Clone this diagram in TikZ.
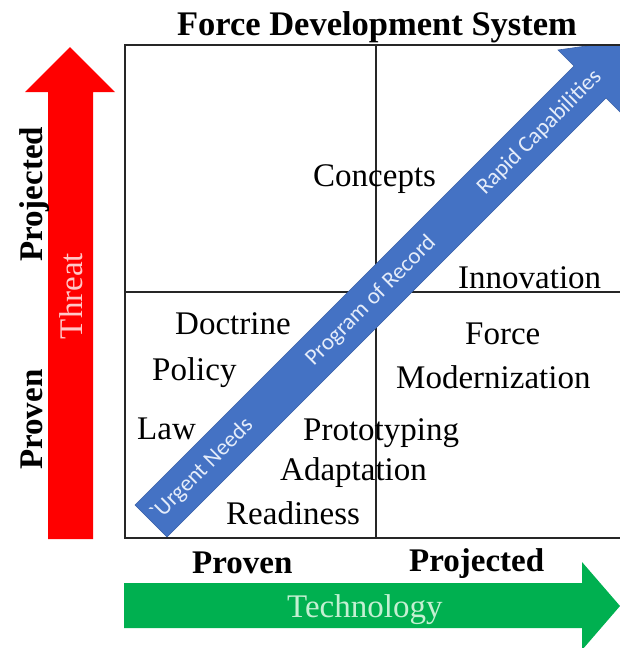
\documentclass[tikz,border=0pt]{standalone}
\usepackage{fontspec}
\setmainfont{Liberation Serif}
\newfontfamily\bandfont{Carlito}
\usepackage{tikz}
\definecolor{threatred}{RGB}{255,0,0}
\definecolor{threatpink}{RGB}{255,200,200}
\definecolor{techgreen}{RGB}{0,176,80}
\definecolor{techpale}{RGB}{196,240,210}
\definecolor{bandblue}{RGB}{68,114,196}
\definecolor{bandtext}{RGB}{228,236,250}

\begin{document}
\begin{tikzpicture}[x=1pt,y=-1pt,
  lbl/.style={font=\fontsize{33}{38}\selectfont,anchor=base west,inner sep=0pt},
  axis/.style={font=\fontsize{33}{38}\selectfont\bfseries,inner sep=0pt},
  band/.style={font=\bandfont\fontsize{23}{26}\selectfont,text=bandtext,rotate=45,inner sep=0pt}]
 \useasboundingbox (0,0) rectangle (620,648);
 \draw[line width=1.6pt,black!85] (376,46) -- (376,538) (126,292) -- (640,292);
 \begin{scope}
  \clip (126,46.5) rectangle (620,537);
  \fill[bandblue,draw=bandblue!85!black,line width=.6pt]
   (135,505) -- (574,66) -- (558,50) -- (632.5,39.5) -- (622,114) -- (606,98) -- (167,537) -- cycle;
 \end{scope}
 \draw[line width=2pt,black!85] (125,45) rectangle (640,538);
 \fill[threatred] (48,539) -- (48,92) -- (25,92) -- (70,47) -- (115,92) -- (93,92) -- (93,539) -- cycle;
 \fill[techgreen] (124,583) -- (582,583) -- (582,562) -- (620,606) -- (582,650) -- (582,628) -- (124,628) -- cycle;
 \node[axis,anchor=base,font=\fontsize{34.5}{40}\selectfont\bfseries] (title) at (377,35) {Force Development System};
 \foreach \x/\y/\txt/\nm in
  {313/186/Concepts/concepts,458/288/Innovation/innov,175/334/Doctrine/doctrine,465/344/Force/force,
   152/380/Policy/policy,396/388/Modernization/modern,137/439/Law/law,303/440/Prototyping/proto,
   280/480/Adaptation/adapt,226/524/Readiness/ready}{
  \node[lbl] (\nm) at (\x,\y) {\txt};}
 \foreach \x/\y/\txt/\nm in
  {202/470/\textasciigrave Urgent Needs/urgent,371/301/Program of Record/record,539.5/132.5/Rapid Capabilities/rapid}{
  \node[band] (\nm) at (\x,\y) {\txt};}
 \node[axis,anchor=base west] (xproven) at (192,573) {Proven};
 \node[axis,anchor=base west] (xproj) at (409,571) {Projected};
 \node[axis,rotate=90,anchor=base west] (yproj) at (42,262) {Projected};
 \node[axis,rotate=90,anchor=base west] (yproven) at (42,470) {Proven};
 \node[lbl,anchor=center,rotate=90,text=threatpink] (threat) at (71,296) {Threat};
 \node[lbl,text=techpale] (tech) at (287,617) {Technology};
\end{tikzpicture}
\end{document}
